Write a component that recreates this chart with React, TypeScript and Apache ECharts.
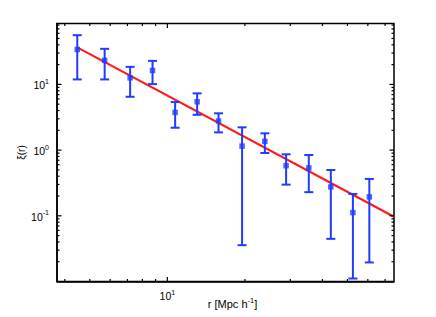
import React, { useEffect, useRef } from "react";
import * as echarts from "echarts";

// ---- data ----
const rValues = [4.47, 5.71, 7.17, 8.76, 10.72, 13.05, 15.8, 19.5, 23.9, 28.9, 35.4, 43.1, 52.5, 60.8];
const xiValues = [34.0, 23.2, 12.6, 16.3, 3.75, 5.44, 2.77, 1.15, 1.36, 0.579, 0.535, 0.275, 0.112, 0.194];
const xiLower = [11.9, 11.9, 6.48, 10.1, 2.19, 3.45, 1.86, 0.0357, 0.903, 0.298, 0.229, 0.0446, 0.0111, 0.0195];
const xiUpper = [56.1, 34.8, 18.5, 22.8, 5.38, 7.3, 3.63, 2.22, 1.8, 0.863, 0.842, 0.498, 0.215, 0.364];

const fitR = [4.47, 75.8];
const fitXi = [36.6, 0.097];

const X_MIN = 3.73;
const X_MAX = 75.8;
const Y_MIN = 0.01;
const Y_MAX = 84.5;

const xLabelValues = [10];
const yLabelValues = [0.1, 1, 10];
const xMajorTicks = [10];
const xMinorTicks = [4, 5, 6, 7, 8, 9, 20, 30, 40, 50, 60, 70];
const yMajorTicks = [0.1, 1, 10];
const yMinorTicks = [
  0.02, 0.03, 0.04, 0.05, 0.06, 0.07, 0.08, 0.09,
  0.2, 0.3, 0.4, 0.5, 0.6, 0.7, 0.8, 0.9,
  2, 3, 4, 5, 6, 7, 8, 9,
  20, 30, 40, 50, 60, 70, 80,
];

const BLUE = "#1f3cff";
const RED = "#ff1a1a";
const FONT = "Liberation Sans, Arial, sans-serif";

function isIn(list: number[], v: number) {
  return list.some((t) => Math.abs(Math.log10(t) - Math.log10(v)) < 1e-6);
}

function powLabel(v: number) {
  const e = Math.round(Math.log10(v));
  return `{b|10}{s|${e}}`;
}

const richLabel = {
  b: { fontSize: 10.5, fontFamily: FONT, color: "#000", lineHeight: 13, verticalAlign: "bottom" },
  s: { fontSize: 7, fontFamily: FONT, color: "#000", lineHeight: 13, verticalAlign: "top" },
};

export default function App() {
  const ref = useRef<HTMLDivElement>(null);
  useEffect(() => {
    if (!ref.current) return;
    const chart = echarts.init(ref.current, undefined, { renderer: "svg" });

    const xTickData = [
      ...xMajorTicks.map((v) => [v, Y_MIN, 4.5]),
      ...xMinorTicks.map((v) => [v, Y_MIN, 2.5]),
    ];
    const yTickData = [
      ...yMajorTicks.map((v) => [X_MIN, v, 4.5]),
      ...yMinorTicks.map((v) => [X_MIN, v, 2.5]),
    ];
    const errData = rValues.map((r, i) => [r, xiValues[i], xiLower[i], xiUpper[i]]);

    chart.setOption({
      animation: false,
      backgroundColor: "#fff",
      grid: {
        left: 57,
        top: 23.5,
        right: 42,
        bottom: 35.5,
        containLabel: false,
        outerBoundsMode: "none",
        show: true,
        borderColor: "#000",
        borderWidth: 1.5,
      },
      xAxis: {
        type: "log",
        logBase: 10,
        min: X_MIN,
        max: X_MAX,
        splitLine: { show: false },
        axisTick: { show: false },
        axisLine: { show: true, lineStyle: { color: "#000", width: 1.5 } },
        axisLabel: {
          margin: 7,
          showMinLabel: true,
          showMaxLabel: true,
          formatter: (v: number) => (isIn(xLabelValues, v) ? powLabel(v) : ""),
          rich: richLabel,
        },
        name: "{n|r [Mpc h}{s|-1}{n|]}",
        nameLocation: "middle",
        nameGap: 15,
        nameMoveOverlap: false,
        nameTextStyle: {
          padding: [0, 0, 0, 14],
          rich: {
            n: { fontSize: 11, fontFamily: FONT, color: "#000", lineHeight: 13, verticalAlign: "bottom" },
            s: { fontSize: 7.5, fontFamily: FONT, color: "#000", lineHeight: 13, verticalAlign: "top" },
          },
        },
      },
      yAxis: {
        type: "log",
        logBase: 10,
        min: Y_MIN,
        max: Y_MAX,
        splitLine: { show: false },
        axisTick: { show: false },
        axisLine: { show: true, lineStyle: { color: "#000", width: 1.5 } },
        axisLabel: {
          margin: 8,
          formatter: (v: number) => (isIn(yLabelValues, v) ? powLabel(v) : ""),
          rich: richLabel,
        },
        name: "ξ(r)",
        nameLocation: "middle",
        nameGap: 31,
        nameMoveOverlap: false,
        nameTextStyle: { fontSize: 10, fontFamily: FONT, color: "#000" },
      },
      series: [
        {
          type: "line",
          data: fitR.map((r, i) => [r, fitXi[i]]),
          showSymbol: false,
          lineStyle: { color: RED, width: 2.2 },
          z: 2,
          silent: true,
        },
        {
          type: "custom",
          coordinateSystem: "cartesian2d",
          data: errData,
          encode: { x: 0, y: 1 },
          clip: false,
          silent: true,
          z: 3,
          renderItem: (params: any, api: any) => {
            const x = api.value(0);
            const lo = api.coord([x, api.value(2)]);
            const hi = api.coord([x, api.value(3)]);
            const hw = 4.5;
            const style = { stroke: BLUE, lineWidth: 2, fill: "none" };
            return {
              type: "group",
              children: [
                { type: "line", shape: { x1: lo[0], y1: lo[1], x2: hi[0], y2: hi[1] }, style },
                { type: "line", shape: { x1: lo[0] - hw, y1: lo[1], x2: lo[0] + hw, y2: lo[1] }, style },
                { type: "line", shape: { x1: hi[0] - hw, y1: hi[1], x2: hi[0] + hw, y2: hi[1] }, style },
              ],
            };
          },
        },
        {
          type: "scatter",
          data: rValues.map((r, i) => [r, xiValues[i]]),
          symbol: "rect",
          symbolSize: 5.5,
          itemStyle: { color: BLUE },
          z: 4,
          silent: true,
        },
        {
          type: "custom",
          coordinateSystem: "cartesian2d",
          data: xTickData,
          encode: { x: 0, y: 1 },
          clip: false,
          silent: true,
          z: 5,
          renderItem: (params: any, api: any) => {
            const v = api.value(0);
            const len = api.value(2);
            const b = api.coord([v, Y_MIN]);
            const t = api.coord([v, Y_MAX]);
            const style = { stroke: "#000", lineWidth: 1.2 };
            return {
              type: "group",
              children: [
                { type: "line", shape: { x1: b[0], y1: b[1], x2: b[0], y2: b[1] - len }, style },
                { type: "line", shape: { x1: t[0], y1: t[1], x2: t[0], y2: t[1] + len }, style },
              ],
            };
          },
        },
        {
          type: "custom",
          coordinateSystem: "cartesian2d",
          data: yTickData,
          encode: { x: 0, y: 1 },
          clip: false,
          silent: true,
          z: 5,
          renderItem: (params: any, api: any) => {
            const v = api.value(1);
            const len = api.value(2);
            const l = api.coord([X_MIN, v]);
            const r = api.coord([X_MAX, v]);
            const style = { stroke: "#000", lineWidth: 1.2 };
            return {
              type: "group",
              children: [
                { type: "line", shape: { x1: l[0], y1: l[1], x2: l[0] + len, y2: l[1] }, style },
                { type: "line", shape: { x1: r[0], y1: r[1], x2: r[0] - len, y2: r[1] }, style },
              ],
            };
          },
        },
      ],
    });
    return () => chart.dispose();
  }, []);

  return (
    <div
      ref={ref}
      style={{ position: "fixed", left: 0, top: 0, width: 436, height: 317, background: "#fff" }}
    />
  );
}
